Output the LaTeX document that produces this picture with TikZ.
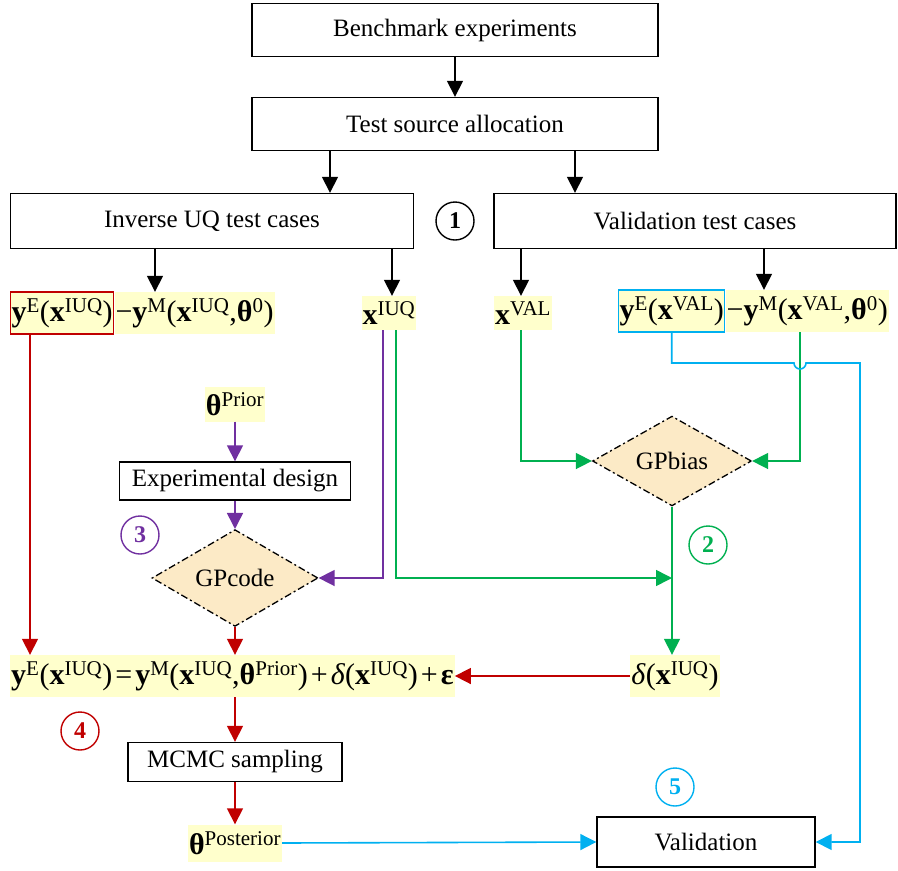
\documentclass[tikz,border=0pt]{standalone}
\usepackage{fontspec}
\setmainfont{Liberation Serif}
\usetikzlibrary{arrows.meta,shapes.geometric,calc}
\definecolor{ylw}{RGB}{255,255,204}
\definecolor{dia}{RGB}{252,234,198}
\definecolor{cred}{RGB}{192,0,0}
\definecolor{cgrn}{RGB}{0,176,80}
\definecolor{cpur}{RGB}{112,48,160}
\definecolor{ccyan}{RGB}{0,176,240}
\newcommand\mysup[1]{\textsuperscript{#1}}
\newcommand\opsp{\hspace{3pt}}
\tikzset{
 box/.style={draw, line width=1.4pt, fill=white, inner sep=0pt, font=\fontsize{25}{30}\selectfont},
 frm/.style={fill=ylw, inner xsep=1pt, inner ysep=0pt, font=\fontsize{30}{36}\selectfont, minimum height=42pt},
 arr/.style={line width=1.6pt, -{Triangle[width=16pt,length=16pt]}},
 gp/.style={diamond, draw, fill=dia, dash pattern=on 7pt off 3pt on 2pt off 3pt, line width=1.3pt, inner sep=0pt, font=\fontsize{25}{30}\selectfont},
 num/.style={circle, draw, line width=1.4pt, minimum size=38pt, inner sep=0pt, font=\bfseries\fontsize{24}{28}\selectfont}
}
\begin{document}
\begin{tikzpicture}[x=1pt,y=-1pt]
\useasboundingbox (0,0) rectangle (898,871);
% boxes
\node[box, minimum width=406pt, minimum height=53pt] (bench) at (455,30) {Benchmark experiments};
\node[box, minimum width=406pt, minimum height=53pt] (test) at (455,124) {Test source allocation};
\node[box, minimum width=403pt, minimum height=55pt] (inv) at (212,221) {Inverse UQ test cases};
\node[box, minimum width=402pt, minimum height=55pt] (valc) at (695,221) {Validation test cases};
\node[num] (n1) at (455,221) {1};
% formulas
\node[frm, draw=cred, line width=1.2pt, anchor=west] (f1a) at (10,313) {\textbf{y}\mysup{E}(\textbf{x}\mysup{IUQ})};
\node[frm, anchor=west] (f1b) at (f1a.east) {−\textbf{y}\mysup{M}(\textbf{x}\mysup{IUQ},\textbf{θ}\mysup{0})};
\node[frm, minimum height=34pt] (xiuq) at (389,313) {\textbf{x}\mysup{IUQ}};
\node[frm, minimum height=34pt] (xval) at (523,313) {\textbf{x}\mysup{VAL}};
\node[frm, draw=ccyan, line width=1.2pt, anchor=west] (f2a) at (618,311) {\textbf{y}\mysup{E}(\textbf{x}\mysup{VAL})};
\node[frm, anchor=west] (f2b) at (f2a.east) {−\textbf{y}\mysup{M}(\textbf{x}\mysup{VAL},\textbf{θ}\mysup{0})};
\node[frm, minimum height=35pt] (thprior) at (235,404) {\textbf{θ}\mysup{Prior}};
\node[box, minimum width=231pt, minimum height=38pt] (expdes) at (235,481) {Experimental design};
\node[gp, minimum width=166pt, minimum height=67pt] (gpcode) at (235,578) {GPcode};
\node[gp, minimum width=159pt, minimum height=70pt] (gpbias) at (672,461) {GPbias};
\node[frm, anchor=west] (f3) at (10,676) {\textbf{y}\mysup{E}(\textbf{x}\mysup{IUQ})\opsp=\opsp\textbf{y}\mysup{M}(\textbf{x}\mysup{IUQ},\textbf{θ}\mysup{Prior})\opsp+\opsp\textit{δ}(\textbf{x}\mysup{IUQ})\opsp+\opsp\textbf{ε}};
\node[frm] (delta) at (675,676) {\textit{δ}(\textbf{x}\mysup{IUQ})};
\node[box, minimum width=214pt, minimum height=39pt] (mcmc) at (235,762) {MCMC sampling};
\node[frm, minimum height=37pt] (thpost) at (235,843) {\textbf{θ}\mysup{Posterior}};
\node[box, minimum width=218pt, minimum height=50pt] (val) at (706,842) {Validation};
% numbers
\node[num, draw=cgrn, text=cgrn] (n2) at (708,545) {2};
\node[num, draw=cpur, text=cpur] (n3) at (140,535) {3};
\node[num, draw=cred, text=cred] (n4) at (80,731) {4};
\node[num, draw=ccyan, text=ccyan] (n5) at (675,787) {5};
% black arrows
\draw[arr] (bench.south) -- (test.north);
\draw[arr] (test.south -| 330,0) -- (inv.north -| 330,0);
\draw[arr] (test.south -| 575,0) -- (valc.north -| 575,0);
\draw[arr] (inv.south -| 155,0) -- (f1b.north -| 155,0);
\draw[arr] (inv.south -| 392,0) -- (xiuq.north -| 392,0);
\draw[arr] (valc.south -| 521,0) -- (xval.north -| 521,0);
\draw[arr] (valc.south -| 764,0) -- (f2b.north -| 764,0);
% purple
\draw[arr, cpur] (thprior.south) -- (expdes.north);
\draw[arr, cpur] (expdes.south) -- (gpcode.north);
\draw[arr, cpur] (xiuq.south -| 383,0) |- (gpcode.east);
% green
\draw[arr, cgrn] (xiuq.south -| 396,0) |- (gpbias.south |- gpcode.east);
\draw[arr, cgrn] (xval.south -| 521,0) |- (gpbias.west);
\draw[arr, cgrn] (f2b.south -| 800,0) |- (gpbias.east);
\draw[arr, cgrn] (gpbias.south) -- (gpbias.south |- delta.north);
% red
\draw[arr, cred] (f1a.south -| 30,0) -- (f3.north -| 30,0);
\draw[arr, cred] (gpcode.south) -- (gpcode.south |- f3.north);
\draw[arr, cred] (delta.west) -- (f3.east);
\draw[arr, cred] (f3.south -| mcmc.north) -- (mcmc.north);
\draw[arr, cred] (mcmc.south) -- (thpost.north);
% cyan
\draw[arr, ccyan] (thpost.east) -- (val.west);
\coordinate (hop) at (800,363);
\draw[arr, ccyan] (f2a.south) |- ($(hop)+(-6,0)$) arc[start angle=180, end angle=360, radius=6pt] -- (860,363) |- (val.east);
\end{tikzpicture}
\end{document}
